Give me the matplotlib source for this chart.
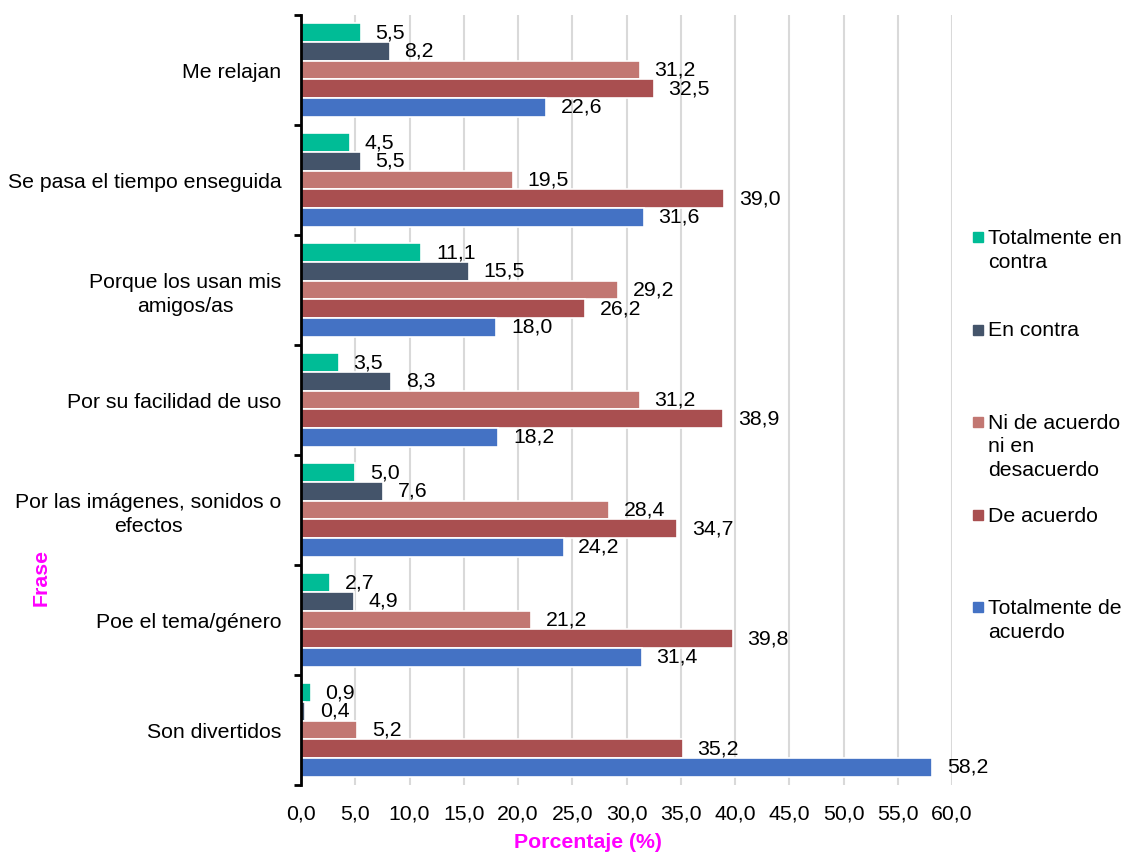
import matplotlib
matplotlib.use("Agg")
import matplotlib.pyplot as plt
from matplotlib.patches import Rectangle
import numpy as np

plt.rcParams['font.family'] = ['Liberation Sans', 'DejaVu Sans']

# frases (de arriba a abajo)
frases = [
    "Me relajan",
    "Se pasa el tiempo enseguida",
    "Porque los usan mis\namigos/as",
    "Por su facilidad de uso",
    "Por las imágenes, sonidos o\nefectos",
    "Poe el tema/género",
    "Son divertidos",
]

series = [
    "Totalmente en\ncontra",
    "En contra",
    "Ni de acuerdo\nni en\ndesacuerdo",
    "De acuerdo",
    "Totalmente de\nacuerdo",
]
colores = ["#00BC96", "#44546A", "#C27772", "#A94F50", "#4472C4"]

tot_contra = [5.5, 4.5, 11.1, 3.5, 5.0, 2.7, 0.9]
en_contra = [8.2, 5.5, 15.5, 8.3, 7.6, 4.9, 0.4]
ni_ni = [31.2, 19.5, 29.2, 31.2, 28.4, 21.2, 5.2]
de_acuerdo = [32.5, 39.0, 26.2, 38.9, 34.7, 39.8, 35.2]
tot_acuerdo = [22.6, 31.6, 18.0, 18.2, 24.2, 31.4, 58.2]
valores = [tot_contra, en_contra, ni_ni, de_acuerdo, tot_acuerdo]

x_ticks = np.arange(0, 65, 5)

W, H = 1128, 852
fs = 15.3
fig = plt.figure(figsize=(W / 100, H / 100), dpi=100)
ax = fig.add_axes([301 / W, 1 - 785 / H, (952 - 301) / W, (785 - 15) / H])

pos = np.arange(len(frases))
alto = 0.17
for j, (nombre, vals, col) in enumerate(zip(series, valores, colores)):
    y = pos + (j - 2) * alto
    ax.barh(y, vals, height=alto, color=col, edgecolor='white', linewidth=1.2, zorder=3)
    for yy, v in zip(y, vals):
        ax.annotate(f"{v:.1f}".replace('.', ','), (v, yy), xytext=(10.5, 0),
                    textcoords='offset points', va='center', ha='left',
                    fontsize=fs, color='black', zorder=4)

ax.set_xlim(0, 60)
ax.set_ylim(len(frases) - 0.5, -0.5)
ax.set_xticks(x_ticks)
ax.set_xticklabels([f"{t:.1f}".replace('.', ',') for t in x_ticks], fontsize=fs)
ax.tick_params(axis='x', length=0, pad=14)

ax.set_yticks(pos)
ax.set_yticklabels(frases, fontsize=fs)
ax.set_yticks(np.arange(-0.5, len(frases), 1), minor=True)
ax.tick_params(axis='y', which='major', length=0, pad=14)
ax.tick_params(axis='y', which='minor', length=5, width=2, color='black')
for t in ax.get_yticklabels():
    t.set_multialignment('center')
    t.set_linespacing(1.3)

ax.grid(axis='x', color='#D9D9D9', linewidth=1.5, zorder=0)
ax.set_axisbelow(True)
for s in ['top', 'right', 'bottom']:
    ax.spines[s].set_visible(False)
ax.spines['left'].set_linewidth(2)
ax.spines['left'].set_zorder(5)

# títulos de los ejes
fig.text(588 / W, 1 - 843 / H, "Porcentaje (%)", ha='center', va='center',
         fontsize=fs, fontweight='bold', color='#FF00FF')
fig.text(41 / W, 1 - 577 / H, "Frase", ha='center', va='center', rotation=90,
         fontsize=fs, fontweight='bold', color='#FF00FF')

# leyenda
for k, (nombre, col) in enumerate(zip(series, colores)):
    yc = 237 + 92.5 * k
    fig.patches.append(Rectangle((973 / W, 1 - (yc + 5) / H), 10 / W, 10 / H,
                                 transform=fig.transFigure, color=col))
    fig.text(988 / W, 1 - (yc - 8) / H, nombre, ha='left', va='top',
             fontsize=fs, linespacing=1.3)

fig.savefig("out.png", dpi=100)
